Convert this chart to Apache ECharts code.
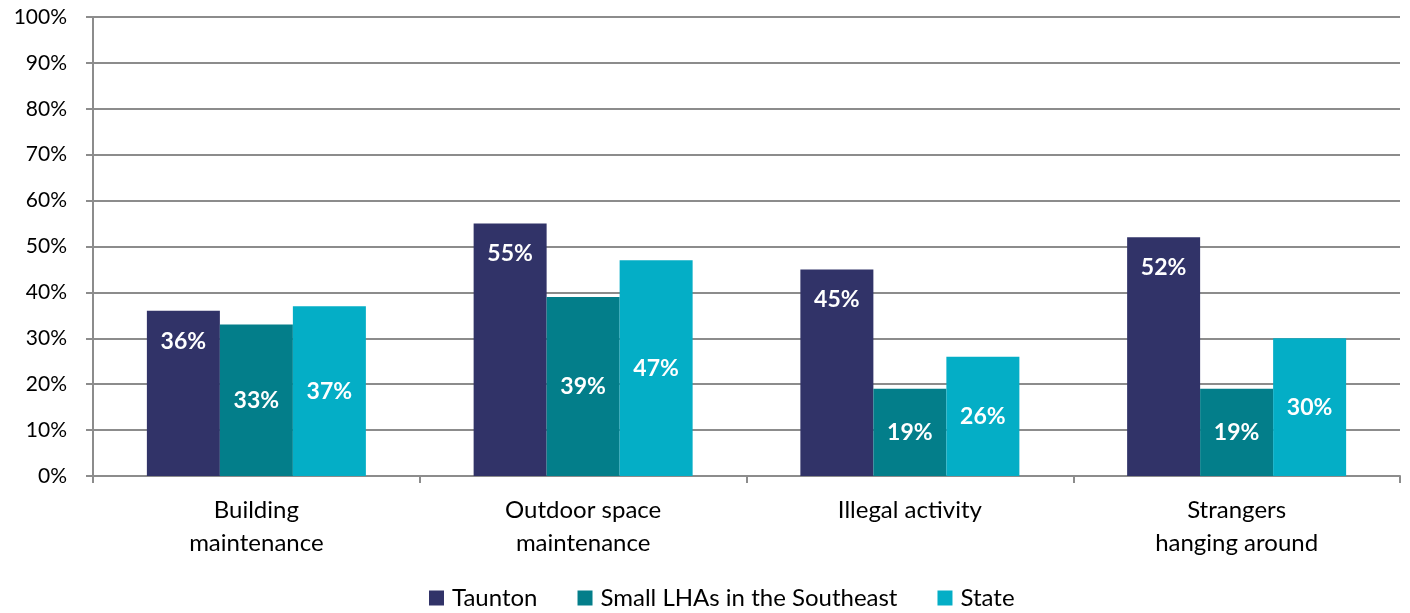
<!DOCTYPE html>
<html><head><meta charset="utf-8">
<script src="https://cdn.jsdelivr.net/npm/echarts@6/dist/echarts.min.js"></script>
<style>html,body{margin:0;padding:0;background:#fff}#c{width:1410px;height:613px}</style>
</head><body><div id="c"></div>
<script>
const categories = ['Building\nmaintenance', 'Outdoor space\nmaintenance', 'Illegal activity', 'Strangers\nhanging around'];
const taunton = [36, 55, 45, 52];
const smallLHAs = [33, 39, 19, 19];
const state = [37, 47, 26, 30];
const seriesNames = ['Taunton', 'Small LHAs in the Southeast', 'State'];
const FONT = 'Lato, "Open Sans", sans-serif';
const chart = echarts.init(document.getElementById('c'));
const lbl = (pos, off) => ({
  show: true, position: pos, offset: off || [0, 0], color: '#fff', fontWeight: 'bold',
  fontSize: 23, fontFamily: FONT, formatter: p => p.value + '%'
});
chart.setOption({
  animation: false,
  grid: { left: 93, right: 10, top: 17, bottom: 137, containLabel: false },
  legend: {
    bottom: -2, left: 424, itemWidth: 15, itemHeight: 15, itemGap: 40,
    icon: 'rect',
    textStyle: { fontSize: 24, fontFamily: FONT, color: '#000', padding: [0, 0, 0, 3] },
    data: seriesNames
  },
  xAxis: {
    type: 'category', data: categories,
    axisLine: { lineStyle: { color: '#8c8c8c', width: 2 } },
    axisTick: { show: true, length: 7, lineStyle: { color: '#8c8c8c', width: 2 } },
    axisLabel: { fontSize: 24, fontFamily: FONT, color: '#000', margin: 18, lineHeight: 33 }
  },
  yAxis: {
    type: 'value', min: 0, max: 100, interval: 10,
    axisLine: { show: true, lineStyle: { color: '#8c8c8c', width: 2 } },
    axisTick: { show: true, length: 7, lineStyle: { color: '#8c8c8c', width: 2 } },
    splitLine: { lineStyle: { color: '#8c8c8c', width: 2 } },
    axisLabel: { fontSize: 21, fontFamily: FONT, color: '#000', margin: 26, formatter: '{value}%' }
  },
  series: [
    { name: seriesNames[0], type: 'bar', data: taunton, barWidth: 73, barGap: '0%',
      itemStyle: { color: '#313368' }, label: lbl('insideTop', [0, 14]) },
    { name: seriesNames[1], type: 'bar', data: smallLHAs, barWidth: 73,
      itemStyle: { color: '#037E8A' }, label: lbl('inside') },
    { name: seriesNames[2], type: 'bar', data: state, barWidth: 73,
      itemStyle: { color: '#04AEC6' }, label: lbl('inside') }
  ]
});
</script></body></html>
